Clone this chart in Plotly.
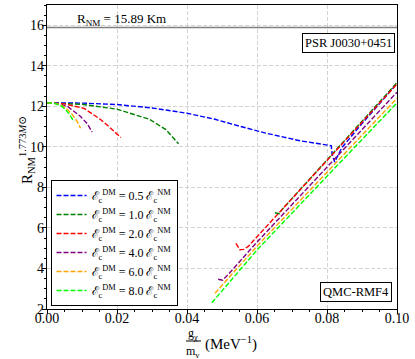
import plotly.graph_objects as go

# ratio E_c^DM / E_c^NM for each curve
ratios = ["0.5", "1.0", "2.0", "4.0", "6.0", "8.0"]
colors = ["blue", "green", "red", "purple", "orange", "lime"]

# left branches (small g/m)
blue_x = [0.0, 0.01, 0.02, 0.03, 0.04, 0.048, 0.055, 0.0625, 0.0723, 0.0812, 0.0815, 0.0822, 0.0842, 0.09, 0.1]
blue_y = [12.17, 12.16, 12.09, 11.92, 11.66, 11.36, 11.02, 10.68, 10.3, 10.06, 9.6, 9.25, 9.95, 11.15, 13.12]

green_lx = [0.0, 0.01, 0.02, 0.0294, 0.034, 0.0376]
green_ly = [12.17, 12.1, 11.86, 11.35, 10.85, 10.15]
red_lx = [0.0, 0.005, 0.0106, 0.0153, 0.018, 0.0211]
red_ly = [12.17, 12.12, 11.9, 11.35, 10.95, 10.46]
purple_lx = [0.0, 0.003, 0.006, 0.0096, 0.0115, 0.0129]
purple_ly = [12.17, 12.14, 11.98, 11.5, 11.14, 10.73]
orange_lx = [0.0, 0.002, 0.004, 0.006, 0.0072, 0.0085, 0.0096]
orange_ly = [12.17, 12.16, 12.08, 11.82, 11.6, 11.28, 10.92]
lime_lx = [0.0, 0.002, 0.004, 0.0053, 0.0065, 0.0077]
lime_ly = [12.17, 12.15, 12.03, 11.85, 11.58, 11.25]

# right branches (large g/m)
green_rx = [0.0651, 0.0664, 0.067, 0.08, 0.1]
green_ry = [6.75, 6.7, 6.88, 9.36, 13.17]
red_rx = [0.054, 0.0551, 0.0562, 0.0576, 0.059, 0.06, 0.08, 0.1]
red_ry = [5.24, 4.92, 4.94, 5.1, 5.38, 5.56, 9.33, 13.1]
purple_rx = [0.0489, 0.0502, 0.052, 0.06, 0.08, 0.1]
purple_ry = [3.47, 3.42, 3.75, 5.3, 9.0, 12.7]
orange_rx = [0.048, 0.06, 0.08, 0.1]
orange_ry = [2.78, 5.1, 8.75, 12.4]
lime_rx = [0.0471, 0.06, 0.08, 0.1]
lime_ry = [2.31, 4.91, 8.55, 12.17]

R_NM = 15.89

curves = [
    ([blue_x], [blue_y]),
    ([green_lx, green_rx], [green_ly, green_ry]),
    ([red_lx, red_rx], [red_ly, red_ry]),
    ([purple_lx, purple_rx], [purple_ly, purple_ry]),
    ([orange_lx, orange_rx], [orange_ly, orange_ry]),
    ([lime_lx, lime_rx], [lime_ly, lime_ry]),
]

fnt = "Liberation Serif, DejaVu Serif, serif"

# plot area in pixels (left, right, top, bottom)
L, R, T, B = 47, 397, 5, 309

def px(x):
    return (x - L) / (R - L)

def py(y):
    return (B - y) / (B - T)

fig = go.Figure()

fig.add_hline(y=R_NM, line_color="grey", line_width=1.5)

for r, c, (xs, ys) in zip(ratios, colors, curves):
    name = "ℰ<sub>c</sub><sup>DM</sup> = %s ℰ<sub>c</sub><sup>NM</sup>" % r
    for i, (x, y) in enumerate(zip(xs, ys)):
        fig.add_trace(go.Scatter(x=x, y=y, mode="lines", name=name, legendgroup=r,
                                 showlegend=(i == 0),
                                 line=dict(color=c, width=1.4, dash="5px,2px")))

fig.add_annotation(x=0.008, y=16.3, xref="x", yref="y", text="R<sub>NM</sub> = 15.89 Km",
                   showarrow=False, xanchor="left", font=dict(size=13))
fig.add_annotation(x=px(395), y=py(33), xref="paper", yref="paper", text="PSR J0030+0451",
                   showarrow=False, xanchor="right", yanchor="top", bordercolor="black",
                   borderwidth=1, borderpad=2, bgcolor="white", font=dict(size=12.5))
fig.add_annotation(x=px(392), y=py(302), xref="paper", yref="paper", text="QMC-RMF4",
                   showarrow=False, xanchor="right", yanchor="bottom", bordercolor="black",
                   borderwidth=1, borderpad=2, bgcolor="white", font=dict(size=12.5))

# y axis title
fig.add_annotation(x=px(15), y=py(150), xref="paper", yref="paper", textangle=-90,
                   text="R<sub>NM</sub><sup>1.773<i>M</i>⊙</sup>", showarrow=False,
                   font=dict(size=15))

# x axis title drawn as a fraction
fig.add_annotation(x=px(193), y=py(343.5), xref="paper", yref="paper", yanchor="bottom",
                   text="g<sub>χ</sub>", showarrow=False, font=dict(size=12))
fig.add_annotation(x=px(193), y=py(341.5), xref="paper", yref="paper", yanchor="top",
                   text="m<sub>v</sub>", showarrow=False, font=dict(size=12))
fig.add_shape(type="line", xref="paper", yref="paper",
              x0=px(186), x1=px(201), y0=py(341), y1=py(341),
              line=dict(color="black", width=1))
fig.add_annotation(x=px(203), y=py(355), xref="paper", yref="paper", yanchor="bottom",
                   text="(MeV<sup>−1</sup>)", showarrow=False, xanchor="left", font=dict(size=15))

fig.update_layout(
    width=415, height=359,
    margin=dict(l=L, r=415 - R, t=T, b=359 - B, autoexpand=False),
    paper_bgcolor="white", plot_bgcolor="white",
    font=dict(family=fnt, size=13, color="black"),
    showlegend=True,
    legend=dict(x=0.01, y=0.01, xanchor="left", yanchor="bottom",
                bordercolor="black", borderwidth=1, bgcolor="white",
                font=dict(size=12), tracegroupgap=0, itemwidth=30),
)
axis_style = dict(showline=True, linecolor="black", linewidth=1.2, mirror=True,
                  ticks="outside", ticklen=4, tickcolor="black",
                  showgrid=True, gridcolor="#d3d3d3", gridwidth=0.8, griddash="4px,2px",
                  zeroline=False, tickfont=dict(size=14))
fig.update_xaxes(range=[0, 0.1], dtick=0.02, tickformat=".2f", ticklabelstandoff=-8,
                 minor=dict(dtick=0.005, ticks="outside", ticklen=2, tickcolor="black", showgrid=False),
                 **axis_style)
fig.update_yaxes(range=[2, 17], dtick=2, ticklabelstandoff=-5,
                 minor=dict(dtick=0.5, ticks="outside", ticklen=2, tickcolor="black", showgrid=False),
                 **axis_style)

fig.write_html("out.html", config={"displayModeBar": False},
               post_script="document.body.style.margin='0';")
